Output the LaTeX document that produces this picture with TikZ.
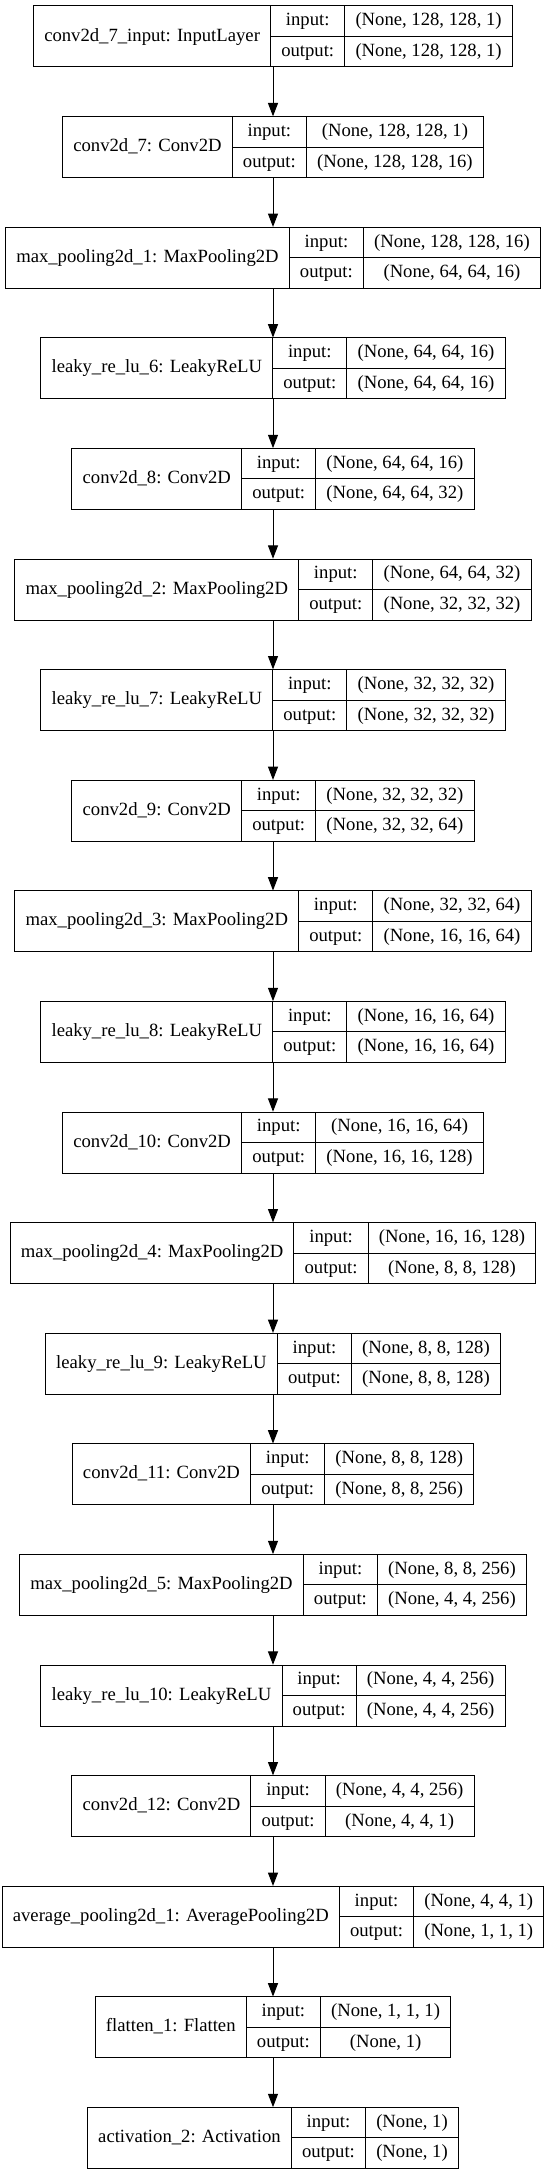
\documentclass[tikz,border=0pt]{standalone}
\usepackage{fontspec}
\setmainfont{Liberation Serif}
\usetikzlibrary{arrows.meta,fit}

\newcommand\layerfont{\fontsize{14pt}{17pt}\selectfont}
\newlength\namewd
\newlength\keywd
\newlength\valwd
\newlength\tmpwd

\newcommand\layerlist{%
  {conv2d\_7\_input: InputLayer}/{(None, 128, 128, 1)}/{(None, 128, 128, 1)},
  {conv2d\_7: Conv2D}/{(None, 128, 128, 1)}/{(None, 128, 128, 16)},
  {max\_pooling2d\_1: MaxPooling2D}/{(None, 128, 128, 16)}/{(None, 64, 64, 16)},
  {leaky\_re\_lu\_6: LeakyReLU}/{(None, 64, 64, 16)}/{(None, 64, 64, 16)},
  {conv2d\_8: Conv2D}/{(None, 64, 64, 16)}/{(None, 64, 64, 32)},
  {max\_pooling2d\_2: MaxPooling2D}/{(None, 64, 64, 32)}/{(None, 32, 32, 32)},
  {leaky\_re\_lu\_7: LeakyReLU}/{(None, 32, 32, 32)}/{(None, 32, 32, 32)},
  {conv2d\_9: Conv2D}/{(None, 32, 32, 32)}/{(None, 32, 32, 64)},
  {max\_pooling2d\_3: MaxPooling2D}/{(None, 32, 32, 64)}/{(None, 16, 16, 64)},
  {leaky\_re\_lu\_8: LeakyReLU}/{(None, 16, 16, 64)}/{(None, 16, 16, 64)},
  {conv2d\_10: Conv2D}/{(None, 16, 16, 64)}/{(None, 16, 16, 128)},
  {max\_pooling2d\_4: MaxPooling2D}/{(None, 16, 16, 128)}/{(None, 8, 8, 128)},
  {leaky\_re\_lu\_9: LeakyReLU}/{(None, 8, 8, 128)}/{(None, 8, 8, 128)},
  {conv2d\_11: Conv2D}/{(None, 8, 8, 128)}/{(None, 8, 8, 256)},
  {max\_pooling2d\_5: MaxPooling2D}/{(None, 8, 8, 256)}/{(None, 4, 4, 256)},
  {leaky\_re\_lu\_10: LeakyReLU}/{(None, 4, 4, 256)}/{(None, 4, 4, 256)},
  {conv2d\_12: Conv2D}/{(None, 4, 4, 256)}/{(None, 4, 4, 1)},
  {average\_pooling2d\_1: AveragePooling2D}/{(None, 4, 4, 1)}/{(None, 1, 1, 1)},
  {flatten\_1: Flatten}/{(None, 1, 1, 1)}/{(None, 1)},
  {activation\_2: Activation}/{(None, 1)}/{(None, 1)}}

% field widths, measured before the picture
\newcommand\measurelayers{%
  \settowidth\keywd{\layerfont output:}\addtolength\keywd{16pt}%
  \global\keywd=\keywd
  \foreach \lbl/\vin/\vout [count=\i from 0] in \layerlist {%
    \settowidth\namewd{\layerfont\lbl}\addtolength\namewd{16pt}%
    \settowidth\valwd{\layerfont\vin}\settowidth\tmpwd{\layerfont\vout}%
    \ifdim\tmpwd>\valwd \valwd=\tmpwd \fi
    \addtolength\valwd{16pt}%
    \expandafter\xdef\csname namewd\i\endcsname{\the\namewd}%
    \expandafter\xdef\csname valwd\i\endcsname{\the\valwd}%
  }}

\tikzset{
  field/.style={draw,line width=0.75pt,inner sep=0pt,outer sep=0pt,
    font=\layerfont,text height=10pt,text depth=3pt},
  namefield/.style={field,minimum width=#1,minimum height=45.75pt},
  keyfield/.style={field,minimum width=\keywd,minimum height=22.875pt},
  valfield/.style={field,minimum width=#1,minimum height=22.875pt},
  flow/.style={-{Triangle[length=10pt,width=7.5pt]},line width=0.75pt}
}

\begin{document}
\measurelayers
\begin{tikzpicture}[x=1pt,y=1pt]
  \useasboundingbox (0,0) rectangle (410.25,-1632);
  % one record per layer
  \foreach \lbl/\vin/\vout [count=\i from 0] in \layerlist {
    \edef\nw{\csname namewd\i\endcsname}
    \edef\vw{\csname valwd\i\endcsname}
    \pgfmathsetmacro\xl{204.75-(\nw+\keywd+\vw)/2}
    \pgfmathsetmacro\yt{-4.5-82.95*\i}
    \node[namefield=\nw,anchor=north west] (name\i) at (\xl,\yt) {\lbl};
    \node[keyfield,anchor=north west] (in\i) at (name\i.north east) {input:};
    \node[keyfield,anchor=north west] (out\i) at (in\i.south west) {output:};
    \node[valfield=\vw,anchor=north west] (inval\i) at (in\i.north east) {\vin};
    \node[valfield=\vw,anchor=north west] (outval\i) at (inval\i.south west) {\vout};
    \node[fit=(name\i)(outval\i),inner sep=0pt] (layer\i) {};
  }
  % connectors
  \foreach \i [remember=\i as \prev (initially 0)] in {1,...,19}
    \draw[flow] (layer\prev.south) -- (layer\i.north);
\end{tikzpicture}
\end{document}
